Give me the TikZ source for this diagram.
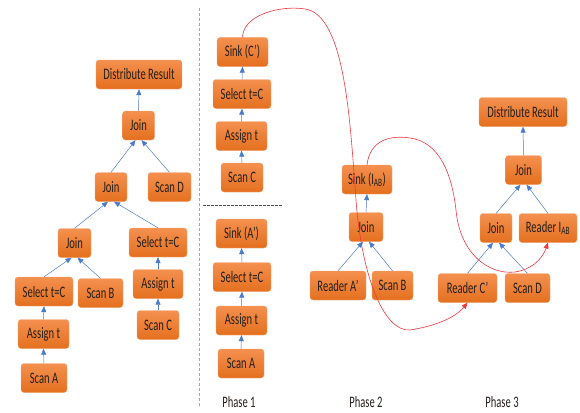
\documentclass[tikz,border=0pt]{standalone}
\usepackage{fontspec}
\setmainfont{Carlito}[FakeStretch=0.66]
\usetikzlibrary{arrows.meta}

\definecolor{optop}{HTML}{F4904F}
\definecolor{opbot}{HTML}{E4701F}
\definecolor{opline}{HTML}{F2A574}
\definecolor{optext}{HTML}{261F1B}
\definecolor{treeblue}{HTML}{4A7BC8}
\definecolor{flowred}{HTML}{F0383C}

\tikzset{
  op/.style={rectangle, rounded corners=3pt, top color=optop, bottom color=opbot,
    draw=opline, line width=0.3pt, minimum height=29pt, inner sep=1pt,
    text=optext, font=\fontsize{16}{17}\selectfont},
  tree/.style={-{Triangle[width=5pt,length=6pt]}, color=treeblue, line width=0.5pt},
  flow/.style={-{Triangle[width=5pt,length=6pt]}, color=flowred, line width=0.6pt},
  phase/.style={text=optext, font=\fontsize{16}{17}\selectfont}
}

\begin{document}
\begin{tikzpicture}[x=1pt,y=-1pt]
    \useasboundingbox (0,0) rectangle (580,412);

    % separators
    \draw[gray!70, dash pattern=on 3pt off 2pt] (199,8) -- (199,408);
    \draw[gray!60!black, dash pattern=on 2.5pt off 1.5pt] (203,205) -- (282,205);

    % single query plan
    \node[op, minimum width=86pt] (dr1) at (139,74.5) {Distribute Result};
    \node[op, minimum width=32pt] (j1) at (138.5,125.5) {Join};
    \node[op, minimum width=32pt] (j2) at (111,187) {Join};
    \node[op, minimum width=43pt] (sD) at (169.5,187) {Scan D};
    \node[op, minimum width=33pt] (j3) at (74.5,243) {Join};
    \node[op, minimum width=58pt] (selR) at (158,242.5) {Select t=C};
    \node[op, minimum width=58pt] (selL) at (44,291.5) {Select t=C};
    \node[op, minimum width=45pt] (sB) at (100.5,293) {Scan B};
    \node[op, minimum width=50pt] (asR) at (158,284) {Assign t};
    \node[op, minimum width=42pt] (sC) at (158,325) {Scan C};
    \node[op, minimum width=51pt] (asL) at (43.5,334) {Assign t};
    \node[op, minimum width=46pt] (sA) at (44,378) {Scan A};

    \draw[tree] (j1.north) -- (dr1.south);
    \draw[tree] (j2.north) -- ([xshift=-3pt]j1.south);
    \draw[tree] (sD.north) -- ([xshift=3pt]j1.south);
    \draw[tree] (j3.north) -- ([xshift=-3pt]j2.south);
    \draw[tree] (selR.north) -- ([xshift=3pt]j2.south);
    \draw[tree] (selL.north) -- ([xshift=-3pt]j3.south);
    \draw[tree] (sB.north) -- ([xshift=3pt]j3.south);
    \draw[tree] (asL.north) -- (selL.south);
    \draw[tree] (sA.north) -- (asL.south);
    \draw[tree] (asR.north) -- (selR.south);
    \draw[tree] (sC.north) -- (asR.south);

    % phase 1
    \node[op, minimum width=51pt] (sinkC) at (242.5,52) {Sink (C’)};
    \node[op, minimum width=58pt] (selC) at (242,94) {Select t=C};
    \node[op, minimum width=51pt] (asC) at (241.5,136) {Assign t};
    \node[op, minimum width=42pt] (scC) at (242,177.5) {Scan C};
    \draw[tree] (scC.north) -- (asC.south);
    \draw[tree] (asC.north) -- (selC.south);
    \draw[tree] (selC.north) -- (sinkC.south);

    \node[op, minimum width=51pt] (sinkA) at (241.5,233.5) {Sink (A’)};
    \node[op, minimum width=58pt] (selA) at (242,277) {Select t=C};
    \node[op, minimum width=51pt] (asA) at (241.5,320.5) {Assign t};
    \node[op, minimum width=46pt] (scA) at (241,363.5) {Scan A};
    \draw[tree] (scA.north) -- (asA.south);
    \draw[tree] (asA.north) -- (selA.south);
    \draw[tree] (selA.north) -- (sinkA.south);

    % phase 2
    \node[op, minimum width=50pt] (sinkAB) at (367,179.5) {Sink (I\textsubscript{AB})};
    \node[op, minimum width=34pt] (j4) at (366,227) {Join};
    \node[op, minimum width=56pt] (rA) at (338,285.5) {Reader A’};
    \node[op, minimum width=41pt] (sB2) at (392.5,285.5) {Scan B};
    \draw[tree] (j4.north) -- (sinkAB.south);
    \draw[tree] (rA.north) -- ([xshift=-3pt]j4.south);
    \draw[tree] (sB2.north) -- ([xshift=3pt]j4.south);

    % phase 3
    \node[op, minimum width=88pt] (dr2) at (523,112) {Distribute Result};
    \node[op, minimum width=36pt] (j5) at (523.5,170) {Join};
    \node[op, minimum width=32pt] (j6) at (496,228) {Join};
    \node[op, minimum width=58pt] (rAB) at (548,228) {Reader I\textsubscript{AB}};
    \node[op, minimum width=59pt] (rC) at (467.5,288) {Reader C’};
    \node[op, minimum width=45pt] (sD3) at (527.5,288) {Scan D};
    \draw[tree] (j5.north) -- (dr2.south);
    \draw[tree] (j6.north) -- ([xshift=-3pt]j5.south);
    \draw[tree] (rAB.north) -- ([xshift=3pt]j5.south);
    \draw[tree] (rC.north) -- ([xshift=-3pt]j6.south);
    \draw[tree] (sD3.north) -- ([xshift=3pt]j6.south);

    % materialized results
    \draw[flow] (sinkC.north) .. controls (243,15) and (280,5) .. (305,9)
        .. controls (345,15) and (350,120) .. (356,200)
        .. controls (362,280) and (385,332) .. (410,330)
        .. controls (435,326) and (455,318) .. (rC.south);
    \draw[flow] (sinkAB.north) .. controls (370,140) and (390,135) .. (410,138)
        .. controls (440,142) and (452,175) .. (456,210)
        .. controls (460,255) and (490,275) .. (515,272)
        .. controls (530,270) and (542,260) .. (rAB.south);

    % phase labels
    \node[phase] (ph1) at (239,402) {Phase 1};
    \node[phase] (ph2) at (366,402) {Phase 2};
    \node[phase] (ph3) at (502,402) {Phase 3};
\end{tikzpicture}
\end{document}
